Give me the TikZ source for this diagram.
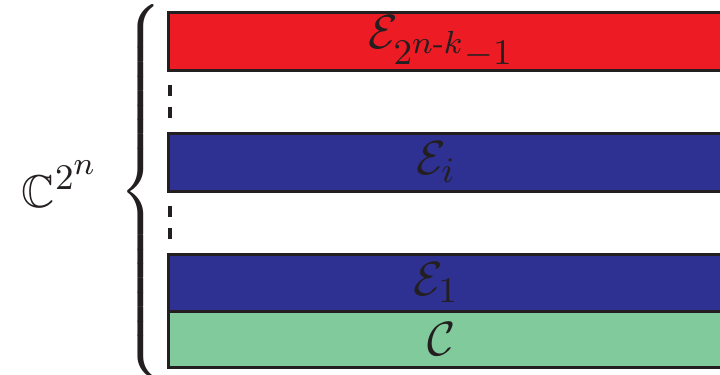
\documentclass[tikz,border=0pt]{standalone}
\usepackage{amsmath,amssymb}
\DeclareMathSizes{11.5}{11.5}{9.4}{7.8}
\definecolor{bred}{RGB}{237,28,36}
\definecolor{bblue}{RGB}{46,49,146}
\definecolor{bgreen}{RGB}{129,202,156}
\definecolor{ink}{RGB}{35,31,32}
\begin{document}
\begin{tikzpicture}[x=0.25pt,y=-0.25pt,
  band/.style={draw=ink,line width=0.875pt},
  lbl/.style={text=ink,inner sep=0pt,font=\fontsize{11.5}{14}\selectfont},
  vdots/.style={draw=ink,line width=0.875pt,dash pattern=on 2.75pt off 2.75pt}]
\useasboundingbox (0,0) rectangle (720,375);
\fill[white] (0,0) rectangle (720,375);
\path[band,fill=bred]   (168.7,12.7) rectangle (730,70.3);
\path[band,fill=bblue]  (168.7,133.7) rectangle (730,191.3);
\path[band,fill=bblue]  (168.7,254.7) rectangle (730,311.3);
\path[band,fill=bgreen] (168.7,311.3) rectangle (730,367.3);
\node[lbl] (e3) at (441,41.5) {$\mathcal{E}_{2^{n\text{-}k}-1}$};
\node[lbl] (e2) at (436,162) {$\mathcal{E}_i$};
\node[lbl] (e1) at (436,283) {$\mathcal{E}_1$};
\node[lbl] (c0) at (442,339) {$\mathcal{C}$};
\coordinate (d1a) at (170,85);
\coordinate (d1b) at (170,118);
\coordinate (d2a) at (170,206);
\coordinate (d2b) at (170,240);
\draw[vdots] (d1a) -- (d1b);
\draw[vdots] (d2a) -- (d2b);
\node[text=ink,inner sep=0pt,font=\fontsize{12}{14}\selectfont] (br) at (143,192) {$\left\{\vcenter{\hrule height 94pt width 0pt}\right.$};
\node[lbl] (cc) at (60,184) {$\mathbb{C}^{2^n}$};
\end{tikzpicture}
\end{document}
